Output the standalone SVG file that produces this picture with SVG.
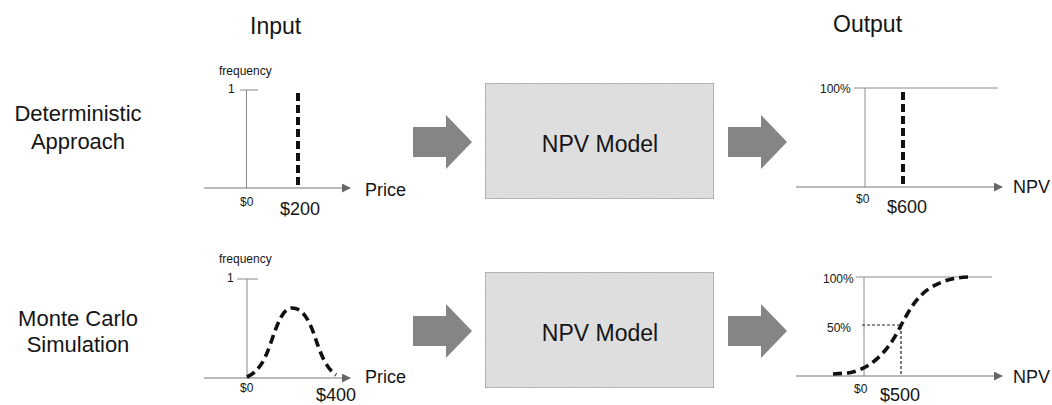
<svg xmlns="http://www.w3.org/2000/svg" width="1052" height="405" viewBox="0 0 1052 405">
  <style>
    text { font-family: "Liberation Sans", Arial, sans-serif; fill: #151515; }
    .head { font-size: 23px; }
    .row { font-size: 22px; text-anchor: middle; }
    .small { font-size: 12px; }
    .val { font-size: 18px; }
    .model { font-size: 23px; text-anchor: middle; }
    .axis { stroke: #777; stroke-width: 1.2; fill: none; }
    .guide { stroke: #8a8a8a; stroke-width: 1; fill: none; }
    .bar { stroke: #111; stroke-width: 4; stroke-dasharray: 8 4; fill: none; }
    .curve { stroke: #111; stroke-width: 3.6; stroke-dasharray: 9 5; fill: none; stroke-linecap: butt; }
    .thin { stroke: #222; stroke-width: 1.2; stroke-dasharray: 3 2; fill: none; }
    .box { fill: #e3e3e3; stroke: #8c8c8c; stroke-width: 1.2; }
    .flow { fill: #858585; }
  </style>
  <defs>
    <marker id="axisHead" viewBox="0 0 10 10" refX="9" refY="5" markerWidth="9" markerHeight="9" markerUnits="userSpaceOnUse" orient="auto">
      <path d="M0,0 L10,5 L0,10 z" fill="#666"/>
    </marker>
    <filter id="grain" x="0" y="0" width="100%" height="100%">
      <feTurbulence type="fractalNoise" baseFrequency="0.9" numOctaves="2" seed="3" result="n"/>
      <feColorMatrix in="n" type="matrix" values="0 0 0 0 0.55  0 0 0 0 0.55  0 0 0 0 0.55  0 0 0 0.35 0" result="g"/>
      <feComposite in="g" in2="SourceGraphic" operator="in" result="gi"/>
      <feMerge><feMergeNode in="SourceGraphic"/><feMergeNode in="gi"/></feMerge>
    </filter>
    <path id="flowArrow" d="M0,-15 L33,-15 L33,-27 L59,0 L33,27 L33,15 L0,15 z"/>
  </defs>

  <rect width="1052" height="405" fill="#ffffff"/>

  <!-- column and row headings -->
  <g id="headings">
    <text class="head" x="250" y="34">Input</text>
    <text class="head" x="833" y="32">Output</text>
    <text class="row" x="78" y="121">Deterministic</text>
    <text class="row" x="78" y="149">Approach</text>
    <text class="row" x="78" y="326">Monte Carlo</text>
    <text class="row" x="78" y="352">Simulation</text>
  </g>

  <!-- deterministic input: single price -->
  <g id="input-deterministic">
    <text class="small" x="219" y="75">frequency</text>
    <text class="small" x="228" y="93">1</text>
    <line class="guide" x1="240" y1="90" x2="258" y2="90"/>
    <line class="guide" x1="246.5" y1="90" x2="246.5" y2="188"/>
    <line class="axis" x1="204" y1="188" x2="350" y2="188" marker-end="url(#axisHead)"/>
    <line class="bar" x1="298" y1="93" x2="298" y2="188"/>
    <text class="val" x="365" y="196">Price</text>
    <text class="small" x="240" y="206">$0</text>
    <text class="val" x="280" y="215">$200</text>
  </g>

  <!-- monte carlo input: price distribution -->
  <g id="input-montecarlo">
    <text class="small" x="219" y="263">frequency</text>
    <text class="small" x="227" y="282">1</text>
    <line class="guide" x1="237" y1="279" x2="258" y2="279"/>
    <line class="guide" x1="247" y1="279" x2="247" y2="378"/>
    <line class="axis" x1="204" y1="378" x2="350" y2="378" marker-end="url(#axisHead)"/>
    <path class="curve" d="M247,377 C258,372 264,362 270,345 C278,322 283,308 292,308 C302,308 308,318 314,334 C320,352 325,367 336,375"/>
    <text class="val" x="365" y="383">Price</text>
    <text class="small" x="240" y="392">$0</text>
    <text class="val" x="316" y="401">$400</text>
  </g>

  <!-- model boxes -->
  <g id="model-deterministic">
    <rect class="box" x="485" y="83" width="229" height="116" filter="url(#grain)"/>
    <text class="model" x="600" y="152">NPV Model</text>
  </g>
  <g id="model-montecarlo">
    <rect class="box" x="485" y="272" width="229" height="116" filter="url(#grain)"/>
    <text class="model" x="600" y="341">NPV Model</text>
  </g>

  <!-- deterministic output: single NPV -->
  <g id="output-deterministic">
    <text class="small" x="820" y="93">100%</text>
    <line class="guide" x1="854" y1="88" x2="998" y2="88"/>
    <line class="guide" x1="865" y1="88" x2="865" y2="187"/>
    <line class="axis" x1="796" y1="187" x2="1002" y2="187" marker-end="url(#axisHead)"/>
    <line class="bar" x1="903" y1="92" x2="903" y2="187"/>
    <text class="val" x="1013" y="193">NPV</text>
    <text class="small" x="856" y="203">$0</text>
    <text class="val" x="887" y="213">$600</text>
  </g>

  <!-- monte carlo output: cumulative NPV curve -->
  <g id="output-montecarlo">
    <text class="small" x="823" y="283">100%</text>
    <line class="guide" x1="856" y1="277" x2="992" y2="277"/>
    <line class="guide" x1="864" y1="277" x2="864" y2="376"/>
    <line class="axis" x1="796" y1="376" x2="1002" y2="376" marker-end="url(#axisHead)"/>
    <text class="small" x="827" y="332">50%</text>
    <polyline class="thin" points="862,325 901,325 901,376"/>
    <path class="curve" d="M833,374 L848,373 C868,370 885,355 897,333 C908,312 915,298 930,288 C945,279 958,277 972,277"/>
    <text class="val" x="1013" y="383">NPV</text>
    <text class="small" x="854" y="393">$0</text>
    <text class="val" x="880" y="401">$500</text>
  </g>

  <!-- flow arrows between stages -->
  <g id="connectors">
    <use href="#flowArrow" class="flow" x="413" y="142"/>
    <use href="#flowArrow" class="flow" x="728" y="142"/>
    <use href="#flowArrow" class="flow" x="413" y="331"/>
    <use href="#flowArrow" class="flow" x="728" y="331"/>
  </g>
</svg>
